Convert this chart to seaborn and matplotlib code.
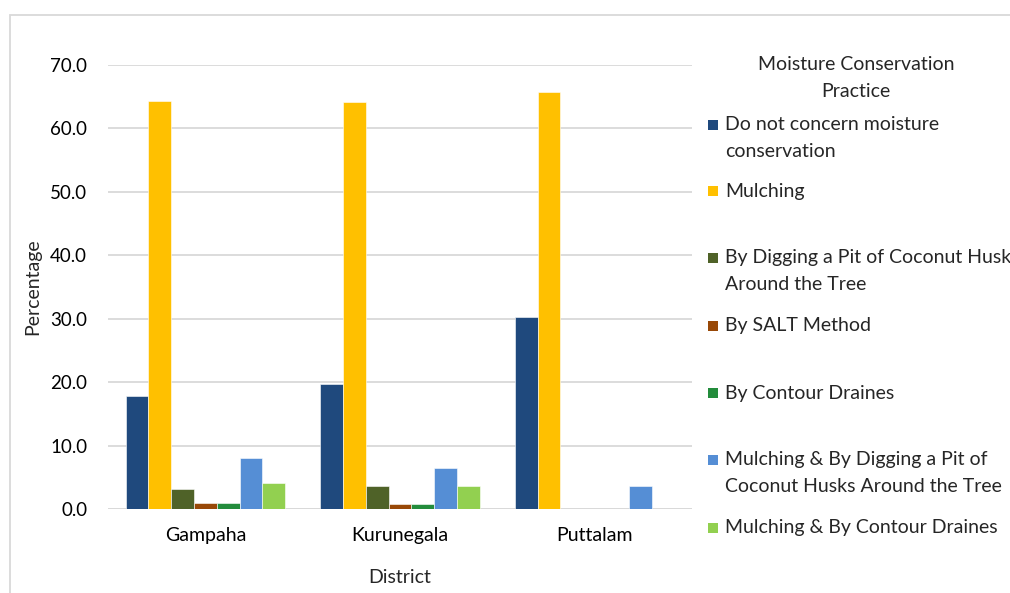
import matplotlib
matplotlib.use("Agg")
import matplotlib.pyplot as plt
from matplotlib.patches import Rectangle
import seaborn as sns
import pandas as pd

districts = ["Gampaha", "Kurunegala", "Puttalam"]
practices = [
    "Do not concern moisture\nconservation",
    "Mulching",
    "By Digging a Pit of Coconut Husks\nAround the Tree",
    "By SALT Method",
    "By Contour Draines",
    "Mulching & By Digging a Pit of\nCoconut Husks Around the Tree",
    "Mulching & By Contour Draines",
]
no_concern = [17.8, 19.7, 30.3]
mulching = [64.3, 64.1, 65.8]
digging_pit = [3.2, 3.6, 0.0]
salt_method = [1.0, 0.8, 0.0]
contour = [1.0, 0.8, 0.0]
mulch_digging = [8.0, 6.5, 3.7]
mulch_contour = [4.1, 3.6, 0.0]
yticks = [0, 10, 20, 30, 40, 50, 60, 70]

series = [no_concern, mulching, digging_pit, salt_method, contour, mulch_digging, mulch_contour]
colors = ["#1F497D", "#FFC000", "#4F6228", "#984807", "#238C3C", "#558ED5", "#92D050"]

rows = []
for p, vals in zip(practices, series):
    for d, v in zip(districts, vals):
        rows.append({"District": d, "Practice": p, "Percentage": v})
df = pd.DataFrame(rows)

sns.set_theme(style="white")
plt.rcParams["font.family"] = ["Lato", "DejaVu Sans"]

FS = 14

fig = plt.figure(figsize=(10.1, 5.93), dpi=100)
ax = fig.add_axes([108 / 1010, 1 - 509 / 593, (692 - 108) / 1010, (509 - 65) / 593])

sns.barplot(data=df, x="District", y="Percentage", hue="Practice",
            hue_order=practices, order=districts, palette=colors, saturation=1,
            width=0.82, ax=ax, legend=False, edgecolor="white", linewidth=0.4)

ax.set_ylim(0, 70)
ax.set_xlim(-0.5, 2.5)
ax.set_yticks(yticks)
ax.set_yticklabels([f"{t:.1f}" for t in yticks], fontsize=13.5, color="#000000")
ax.tick_params(axis="y", length=0, pad=15)
ax.tick_params(axis="x", length=0, pad=13, labelsize=FS, labelcolor="#000000")
ax.yaxis.grid(True, color="#D9D9D9", linewidth=1.3)
ax.set_axisbelow(True)
for s in ax.spines.values():
    s.set_visible(False)
ax.axhline(0, color="#D9D9D9", linewidth=1.3, zorder=0.5)
ax.set_xlabel("District", fontsize=FS, labelpad=18)
ax.set_ylabel("Percentage", fontsize=FS, labelpad=6)

# outer chart border
fig.patches.append(Rectangle((10 / 1010, -0.1), 1.2, 1.1 - 15 / 593,
                             transform=fig.transFigure, fill=False,
                             edgecolor="#D9D9D9", linewidth=1.3))

# legend
def fx(px):
    return px / 1010

def fy(py):
    return 1 - py / 593

fig.text(fx(856), fy(78), "Moisture Conservation\nPractice", ha="center", va="center",
         fontsize=FS, linespacing=1.65)
entry_y = [125, 191, 258, 326, 393, 460, 528]
for lab, col, y in zip(practices, colors, entry_y):
    fig.patches.append(Rectangle((fx(708), fy(y + 5)), 10 / 1010, 10 / 593,
                                 transform=fig.transFigure, facecolor=col, edgecolor="none"))
    nlines = lab.count("\n") + 1
    fig.text(fx(725), fy(y + 13 * (nlines - 1)), lab, ha="left", va="center",
             fontsize=FS, linespacing=1.65)

fig.savefig("out.png", dpi=100)
